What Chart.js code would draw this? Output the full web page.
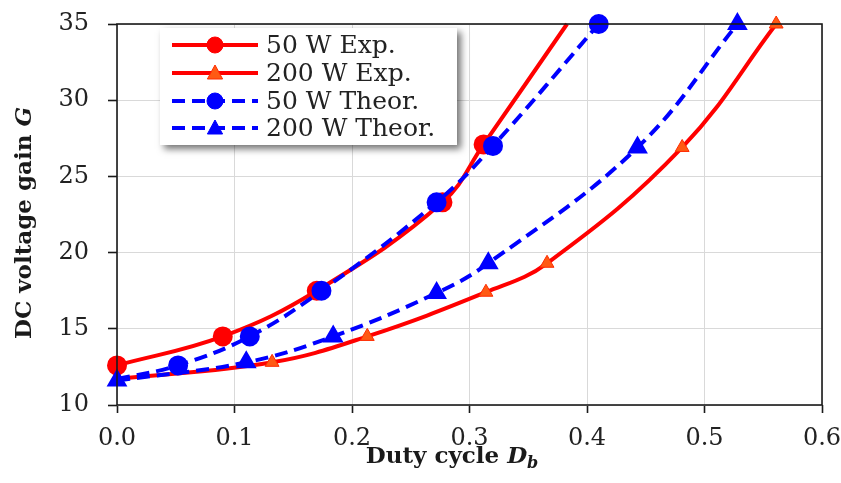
<!DOCTYPE html>
<html>
<head>
<meta charset="utf-8">
<script src="https://cdn.jsdelivr.net/npm/chart.js@4/dist/chart.umd.min.js"></script>
<style>
html,body{margin:0;padding:0;background:#fff;}
#wrap{width:841px;height:483px;position:relative;}
</style>
</head>
<body>
<div id="wrap"><canvas id="c" width="841" height="483"></canvas></div>
<script>
// ---- data ----
const exp50X   = [0, 0.09, 0.17, 0.277, 0.312, 0.383];
const exp50Y   = [12.6, 14.5, 17.5, 23.3, 27.1, 35];
const exp200X  = [0, 0.132, 0.213, 0.314, 0.366, 0.481, 0.561];
const exp200Y  = [11.7, 12.8, 14.5, 17.4, 19.3, 26.9, 35];
const th50X    = [0, 0.052, 0.113, 0.174, 0.272, 0.32, 0.41];
const th50Y    = [11.7, 12.6, 14.5, 17.5, 23.3, 27.0, 35];
const th200X   = [0, 0.11, 0.184, 0.272, 0.316, 0.443, 0.528];
const th200Y   = [11.6, 12.8, 14.5, 17.35, 19.3, 26.9, 35];
const seriesLabels = ['50 W Exp.', '200 W Exp.', '50 W Theor.', '200 W Theor.'];
const xTicks = [0, 0.1, 0.2, 0.3, 0.4, 0.5, 0.6];
const yTicks = [10, 15, 20, 25, 30, 35];

const pts = (xs, ys) => xs.map((x, i) => ({x: x, y: ys[i]}));

const FONT = '"DejaVu Serif", serif';
const RED = '#ff0000';
const ORANGE = '#ff5a14';
const BLUE = '#0000ff';

const legendPlugin = {
  id: 'customLegend',
  afterDatasetsDraw(chart) {
    const ctx = chart.ctx;
    ctx.save();
    const bx = 160, by = 28, bw = 297, bh = 117;
    ctx.shadowColor = 'rgba(0,0,0,0.55)';
    ctx.shadowBlur = 7;
    ctx.shadowOffsetX = 4;
    ctx.shadowOffsetY = 4;
    ctx.fillStyle = '#ffffff';
    ctx.fillRect(bx, by, bw, bh);
    ctx.restore();
    ctx.save();
    const rows = [45, 73, 101, 128];
    chart.data.datasets.forEach((ds, i) => {
      const y = rows[i];
      ctx.strokeStyle = ds.borderColor;
      ctx.lineWidth = 4;
      ctx.setLineDash(ds.borderDash || []);
      ctx.beginPath();
      ctx.moveTo(172, y);
      ctx.lineTo(258, y);
      ctx.stroke();
      ctx.setLineDash([]);
      const cx = 215;
      ctx.fillStyle = ds.pointBackgroundColor;
      ctx.strokeStyle = ds.pointBorderColor;
      ctx.lineWidth = 1;
      ctx.beginPath();
      if (ds.pointStyle === 'circle') {
        ctx.arc(cx, y, 8, 0, Math.PI * 2);
      } else {
        const r = 8;
        ctx.moveTo(cx, y - r);
        ctx.lineTo(cx + r * 0.95, y + r * 0.75);
        ctx.lineTo(cx - r * 0.95, y + r * 0.75);
        ctx.closePath();
      }
      ctx.fill();
      ctx.stroke();
      ctx.fillStyle = '#222';
      ctx.font = '25px ' + FONT;
      ctx.textBaseline = 'middle';
      ctx.textAlign = 'left';
      ctx.fillText(ds.label, 266, y + 1);
    });
    ctx.restore();
  }
};

const framePlugin = {
  id: 'frame',
  afterDraw(chart) {
    const a = chart.chartArea, ctx = chart.ctx;
    ctx.save();
    ctx.strokeStyle = '#1a1a1a';
    ctx.lineWidth = 1.6;
    ctx.strokeRect(a.left, a.top, a.right - a.left, a.bottom - a.top);
    ctx.fillStyle = '#1a1a1a';
    ctx.textBaseline = 'alphabetic';
    const f1 = 'bold 23px ' + FONT, f2 = 'italic bold 23px ' + FONT, f3 = 'italic bold 16px ' + FONT;
    ctx.font = f1; const w1 = ctx.measureText('Duty cycle ').width;
    ctx.font = f2; const w2 = ctx.measureText('D').width;
    ctx.font = f3; const w3 = ctx.measureText('b').width;
    let x0 = 452 - (w1 + w2 + w3) / 2, yb = 463;
    ctx.font = f1; ctx.fillText('Duty cycle ', x0, yb);
    ctx.font = f2; ctx.fillText('D', x0 + w1, yb);
    ctx.font = f3; ctx.fillText('b', x0 + w1 + w2, yb + 5);
    ctx.translate(31, 223);
    ctx.rotate(-Math.PI / 2);
    ctx.font = f1; const v1 = ctx.measureText('DC voltage gain ').width;
    ctx.font = f2; const v2 = ctx.measureText('G').width;
    let s = -(v1 + v2) / 2;
    ctx.font = f1; ctx.fillText('DC voltage gain ', s, 0);
    ctx.font = f2; ctx.fillText('G', s + v1, 0);
    ctx.restore();
  }
};

new Chart(document.getElementById('c'), {
  type: 'line',
  data: {
    datasets: [
      {
        label: seriesLabels[0], data: pts(exp50X, exp50Y),
        borderColor: RED, borderWidth: 4, pointStyle: 'circle',
        pointRadius: [8, 8, 8, 8, 8, 0], pointBackgroundColor: RED, pointBorderColor: RED,
        tension: 0.4, clip: false, order: 4
      },
      {
        label: seriesLabels[1], data: pts(exp200X, exp200Y),
        borderColor: RED, borderWidth: 4, pointStyle: 'triangle',
        pointRadius: [0, 8, 8, 8, 8, 8, 8], pointBackgroundColor: ORANGE, pointBorderColor: '#ff2a00', pointBorderWidth: 1,
        tension: 0.4, clip: false, order: 3
      },
      {
        label: seriesLabels[2], data: pts(th50X, th50Y),
        borderColor: BLUE, borderWidth: 4, borderDash: [13, 7], pointStyle: 'circle',
        pointRadius: [0, 8, 8, 8, 8, 8, 8], pointBackgroundColor: BLUE, pointBorderColor: BLUE,
        tension: 0.4, clip: false, order: 2
      },
      {
        label: seriesLabels[3], data: pts(th200X, th200Y),
        borderColor: BLUE, borderWidth: 4, borderDash: [13, 7], pointStyle: 'triangle',
        pointRadius: 8, pointBackgroundColor: BLUE, pointBorderColor: BLUE,
        tension: 0.4, clip: false, order: 1
      }
    ]
  },
  options: {
    responsive: false,
    animation: false,
    events: [],
    layout: { padding: { left: 0, top: 24, right: 19, bottom: 0 } },
    plugins: { legend: { display: false }, tooltip: { enabled: false } },
    scales: {
      x: {
        type: 'linear', min: 0, max: 0.6,
        afterBuildTicks: (s) => { s.ticks = xTicks.map(v => ({value: v})); },
        afterFit: (s) => { s.height = 78; s.paddingLeft = 0; s.paddingRight = 0; },
        ticks: { font: { family: FONT, size: 24 }, color: '#222', padding: 11,
                 callback: (v) => Number(v).toFixed(1) },
        grid: { color: '#d9d9d9', lineWidth: 1, tickLength: 8, tickColor: '#1a1a1a', tickWidth: 1.6 },
        border: { display: false }
      },
      y: {
        type: 'linear', min: 10, max: 35,
        afterBuildTicks: (s) => { s.ticks = yTicks.map(v => ({value: v})); },
        afterFit: (s) => { s.width = 117; s.paddingTop = 0; s.paddingBottom = 0; },
        ticks: { font: { family: FONT, size: 24 }, color: '#222', padding: 19 },
        grid: { color: '#d9d9d9', lineWidth: 1, tickLength: 9, tickColor: '#1a1a1a', tickWidth: 1.6 },
        border: { display: false }
      }
    }
  },
  plugins: [legendPlugin, framePlugin]
});
</script>
</body>
</html>
